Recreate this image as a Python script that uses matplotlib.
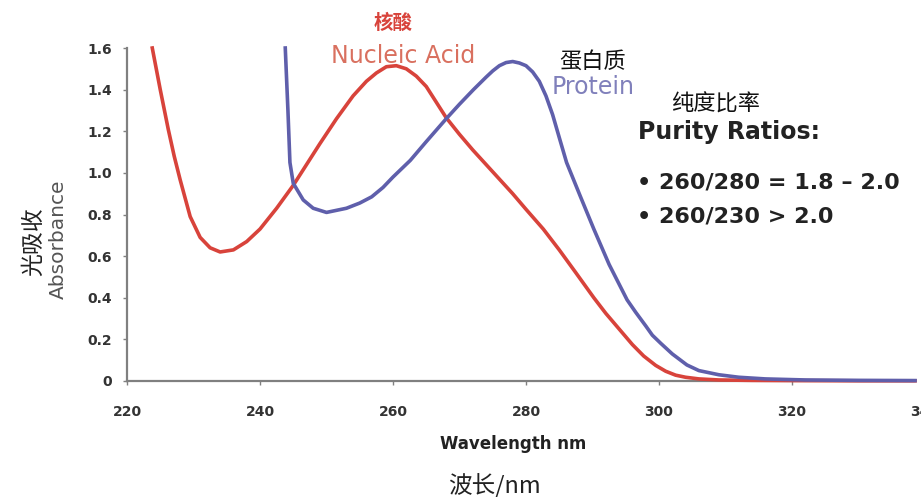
import matplotlib
matplotlib.use('Agg')
import matplotlib.pyplot as plt

# values
wl_nucleic = [223.8, 225.0, 226.2, 227.1, 228.0, 229.5, 231.0, 232.5, 234.0, 236.0,
              238.0, 240.0, 242.5, 245.0, 247.0, 249.0, 251.5, 254.0, 256.0, 257.5,
              259.0, 260.5, 262.0, 263.5, 265.0, 266.5, 268.0, 270.0, 272.0, 274.0,
              276.0, 278.0, 280.0, 282.6, 285.0, 287.5, 290.2, 292.0, 294.0, 296.0,
              297.7, 299.5, 301.0, 302.5, 304.0, 306.0, 309.0, 314.0, 320.0, 330.0, 338.5]
abs_nucleic = [1.60, 1.40, 1.21, 1.08, 0.966, 0.79, 0.69, 0.64, 0.62, 0.63,
               0.67, 0.73, 0.83, 0.94, 1.04, 1.14, 1.26, 1.37, 1.44, 1.48,
               1.51, 1.515, 1.50, 1.465, 1.415, 1.34, 1.265, 1.185, 1.11, 1.04,
               0.97, 0.90, 0.825, 0.73, 0.63, 0.52, 0.40, 0.325, 0.25, 0.175,
               0.12, 0.075, 0.047, 0.028, 0.018, 0.01, 0.005, 0.003, 0.002, 0.001, 0.001]

wl_protein = [243.8, 244.0, 244.2, 244.5, 245.0, 246.5, 248.0, 250.0, 253.0, 255.0,
              256.8, 258.5, 260.0, 262.6, 265.0, 268.0, 270.0, 272.1, 274.0, 275.0,
              276.0, 277.0, 278.0, 279.0, 280.0, 281.0, 282.0, 283.0, 284.0, 285.0,
              286.1, 288.2, 290.2, 292.5, 295.2, 296.5, 298.0, 299.0, 300.3, 302.0,
              304.2, 306.0, 309.0, 312.0, 316.0, 322.0, 330.0, 338.5]
abs_protein = [1.60, 1.45, 1.30, 1.05, 0.95, 0.87, 0.83, 0.81, 0.83, 0.855,
               0.885, 0.93, 0.98, 1.06, 1.15, 1.26, 1.33, 1.40, 1.46, 1.49,
               1.515, 1.53, 1.535, 1.528, 1.515, 1.485, 1.44, 1.37, 1.28, 1.17,
               1.05, 0.885, 0.73, 0.56, 0.39, 0.33, 0.265, 0.22, 0.18, 0.13,
               0.077, 0.05, 0.03, 0.018, 0.01, 0.005, 0.003, 0.002]

x_ticks = [220, 240, 260, 280, 300, 320, 340]
y_ticks = [0, 0.2, 0.4, 0.6, 0.8, 1.0, 1.2, 1.4, 1.6]
y_ticklabels = ['0', '0.2', '0.4', '0.6', '0.8', '1.0', '1.2', '1.4', '1.6']

W, H = 921, 497
fig = plt.figure(figsize=(W / 100, H / 100), dpi=100)
ax = fig.add_axes([127 / W, 1 - 381 / H, (925 - 127) / W, (381 - 48) / H])

ax.plot(wl_nucleic, abs_nucleic, color='#d8433b', lw=2.6, clip_on=False, zorder=3)
ax.plot(wl_protein, abs_protein, color='#5f5fab', lw=2.6, clip_on=False, zorder=4)

ax.set_xlim(220, 340)
ax.set_ylim(0, 1.6)
for side in ('top', 'right'):
    ax.spines[side].set_visible(False)
for side in ('left', 'bottom'):
    ax.spines[side].set_color('#808080')
    ax.spines[side].set_linewidth(1.6)
ax.spines['bottom'].set_bounds(220, 338.3)

ax.set_xticks(x_ticks)
ax.set_yticks(y_ticks)
ax.set_yticklabels(y_ticklabels)
ax.tick_params(axis='both', direction='out', length=3, width=1, color='#808080',
               labelsize=10, labelcolor='#333333')
ax.tick_params(axis='x', pad=14)
ax.tick_params(axis='y', pad=8)
for lab in ax.get_xticklabels() + ax.get_yticklabels():
    lab.set_fontweight('bold')

cjk = ['Noto Sans CJK SC', 'DejaVu Sans']

# axis titles
fig.text(513 / W, 1 - 444 / H, 'Wavelength nm', ha='center', va='center',
         fontsize=12, fontweight='bold', color='#222222')
fig.text(494 / W, 1 - 486 / H, '波长/nm', ha='center', va='center',
         fontsize=17, family=cjk, color='#222222')
fig.text(34 / W, 1 - 242 / H, '光吸收', ha='center', va='center', rotation=90,
         fontsize=16.5, family=cjk, color='#222222')
fig.text(58 / W, 1 - 239 / H, 'Absorbance', ha='center', va='center', rotation=90,
         fontsize=14.5, color='#555555')

# curve labels
fig.text(393 / W, 1 - 23 / H, '核酸', ha='center', va='center',
         fontsize=14, family=cjk, fontweight='bold', color='#d8433b')
fig.text(403 / W, 1 - 56 / H, 'Nucleic Acid', ha='center', va='center',
         fontsize=17, color='#d9705f')
fig.text(593 / W, 1 - 61 / H, '蛋白质', ha='center', va='center',
         fontsize=16, family=cjk, color='#111111')
fig.text(593 / W, 1 - 87 / H, 'Protein', ha='center', va='center',
         fontsize=17, color='#8080bb')

# purity ratios note
fig.text(716 / W, 1 - 104 / H, '纯度比率', ha='center', va='center',
         fontsize=16, family=cjk, color='#111111')
fig.text(638 / W, 1 - 132 / H, 'Purity Ratios:', ha='left', va='center',
         fontsize=17, fontweight='bold', color='#222222')
fig.text(637 / W, 1 - 182 / H, '• 260/280 = 1.8 – 2.0', ha='left', va='center',
         fontsize=16, fontweight='bold', color='#222222')
fig.text(637 / W, 1 - 217 / H, '• 260/230 > 2.0', ha='left', va='center',
         fontsize=16, fontweight='bold', color='#222222')

fig.savefig('out.png', dpi=100)
